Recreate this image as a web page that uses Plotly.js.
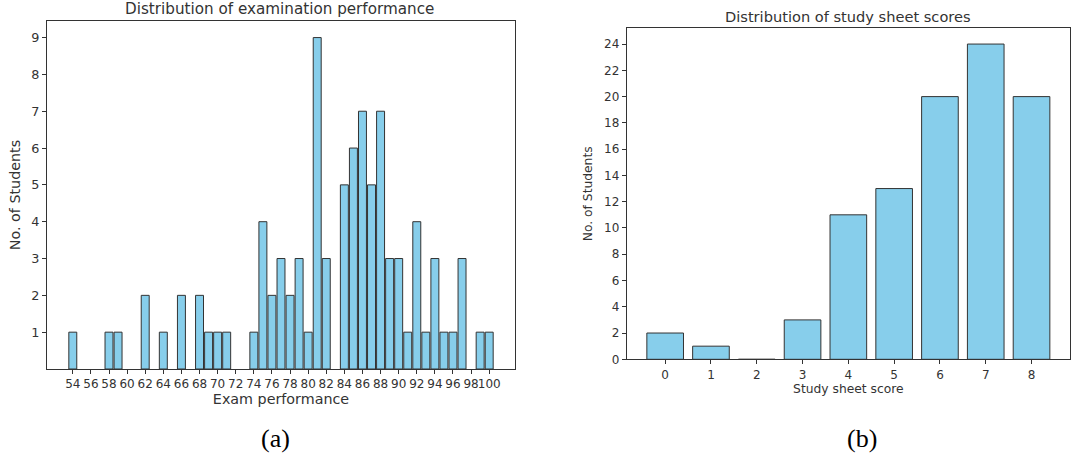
<!DOCTYPE html>
<html>
<head>
<meta charset="utf-8">
<script src="https://cdn.plot.ly/plotly-3.0.1.min.js"></script>
<style>html,body{margin:0;padding:0;background:#fff;}#chart{width:1074px;height:465px;}</style>
</head>
<body>
<div id="chart"></div>
<script>
const examScores = [54,58,59,62,64,66,68,69,70,71,74,75,76,77,78,79,80,81,82,84,85,86,87,88,89,90,91,92,93,94,95,96,97,99,100];
const examCounts = [1,1,1,2,1,2,2,1,1,1,1,4,2,3,2,3,1,9,3,5,6,7,5,7,3,3,1,4,1,3,1,1,3,1,1];
const examTicks = [54,56,58,60,62,64,66,68,70,72,74,76,78,80,82,84,86,88,90,92,94,96,98,100];
const sheetScores = [0,1,2,3,4,5,6,7,8];
const sheetCounts = [2,1,0,3,11,13,20,24,20];
const examTitle = "Distribution of examination performance";
const sheetTitle = "Distribution of study sheet scores";

const W = 1074, H = 465;
const fx = p => p / W;
const fy = p => 1 - p / H;
const txt = '#333333';
const fam = 'DejaVu Sans, sans-serif';

const traces = [
  {type:'bar', x: examScores, y: examCounts, xaxis:'x', yaxis:'y', width: 0.88,
   marker:{color:'#87CEEB', line:{color:'#333333', width:1}}, hoverinfo:'x+y'},
  {type:'bar', x: sheetScores, y: sheetCounts, xaxis:'x2', yaxis:'y2', width: 0.8,
   marker:{color:'#87CEEB', line:{color:'#333333', width:1}}, hoverinfo:'x+y'}
];

const axBase = {showline:true, mirror:true, linecolor:'#333333', linewidth:1, showgrid:false, zeroline:false,
  ticks:'outside', ticklen:4, tickcolor:'#333333', tickfont:{family:fam, size:12, color:txt}};

const layout = {
  width: W, height: H, margin:{l:0,r:0,t:0,b:0}, paper_bgcolor:'#fff', plot_bgcolor:'#fff',
  showlegend:false, bargap:0,
  xaxis: Object.assign({}, axBase, {domain:[fx(47), fx(515)], range:[51.15, 102.85], tickvals: examTicks,
    ticktext: examTicks.map(String), tickangle:0, anchor:'y', tickfont:{family:fam, size:12, color:txt},
    title:{text:'Exam performance', font:{family:fam, size:14.3, color:txt}, standoff:3}}),
  yaxis: Object.assign({}, axBase, {domain:[fy(369), fy(21)], range:[0, 9.45], tickvals:[1,2,3,4,5,6,7,8,9], anchor:'x',
    tickfont:{family:fam, size:12.8, color:txt},
    title:{text:'No. of Students', font:{family:fam, size:14.3, color:txt}, standoff:7}}),
  xaxis2: Object.assign({}, axBase, {domain:[fx(626.7), fx(1070)], range:[-0.84, 8.84], tickvals: sheetScores, anchor:'y2',
    title:{text:'Study sheet score', font:{family:fam, size:12.3, color:txt}, standoff:3}}),
  yaxis2: Object.assign({}, axBase, {domain:[fy(359.3), fy(28.3)], range:[0, 25.2], dtick:2, tick0:0, anchor:'x2',
    title:{text:'No. of Students', font:{family:fam, size:12.3, color:txt}, standoff:8}}),
  annotations: [
    {text: examTitle, xref:'paper', yref:'paper', x: fx(279), y: fy(9), showarrow:false, xanchor:'center', yanchor:'middle',
     font:{family:fam, size:15.2, color:txt}},
    {text: sheetTitle, xref:'paper', yref:'paper', x: fx(848), y: fy(16), showarrow:false, xanchor:'center', yanchor:'middle',
     font:{family:fam, size:14.6, color:txt}},
    {text:'(a)', xref:'paper', yref:'paper', x: fx(275), y: fy(438), showarrow:false, xanchor:'center', yanchor:'middle',
     font:{family:'Liberation Serif, Times New Roman, serif', size:26, color:'#000'}},
    {text:'(b)', xref:'paper', yref:'paper', x: fx(862), y: fy(438), showarrow:false, xanchor:'center', yanchor:'middle',
     font:{family:'Liberation Serif, Times New Roman, serif', size:26, color:'#000'}}
  ]
};

Plotly.newPlot('chart', traces, layout, {displayModeBar:false, staticPlot:true});
</script>
</body>
</html>
